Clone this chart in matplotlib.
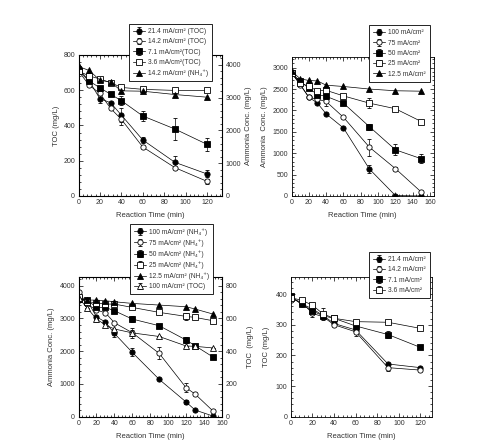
import numpy as np
from matplotlib import pyplot as plt
from matplotlib.ticker import AutoMinorLocator

plt.rcParams['font.family'] = ['Liberation Sans', 'DejaVu Sans']
plt.rcParams['font.size'] = 5

TXT = '#333333'

# panel (a): TOC / NH4+ at different current densities, 0-120 min
t_a = [0, 10, 20, 30, 40, 60, 90, 120]
toc_214 = [724, 652, 552, 529, 459, 318, 191, 125]
toc_214_err = [0, 0, 25, 0, 40, 15, 35, 20]
toc_142 = [709, 628, 582, 497, 435, 278, 161, 83]
toc_142_err = [0, 0, 0, 0, 30, 0, 0, 15]
toc_71 = [709, 652, 614, 577, 541, 454, 380, 293]
toc_71_err = [0, 0, 0, 0, 25, 28, 65, 35]
toc_36 = [709, 681, 664, 643, 616, 605, 599, 599]
nh4_142 = [3949, 3827, 3532, 3471, 3206, 3196, 3094, 3013]
labels_a = ['21.4 mA/cm² (TOC)', '14.2 mA/cm² (TOC)', '7.1 mA/cm²(TOC)',
            '3.6 mA/cm²(TOC)', '14.2 mA/cm² (NH₄⁺)']

# panel (b): ammonia at different current densities, 0-150 min
t_b = [0, 10, 20, 30, 40, 60, 90, 120, 150]
nh_100 = [2884, 2610, 2310, 2170, 1920, 1590, 630, 10, 0]
nh_100_err = [0, 0, 0, 0, 0, 0, 100, 0, 0]
nh_75 = [2884, 2600, 2310, 2260, 2210, 1840, 1140, 640, 90]
nh_75_err = [0, 0, 0, 0, 100, 0, 200, 30, 0]
nh_50 = [2884, 2680, 2520, 2370, 2330, 2170, 1620, 1080, 870]
nh_50_err = [0, 0, 0, 0, 0, 0, 70, 130, 100]
nh_25 = [2870, 2650, 2560, 2460, 2470, 2340, 2170, 2040, 1740]
nh_25_err = [0, 0, 0, 0, 0, 0, 110, 0, 0]
nh_125 = [2923, 2740, 2700, 2690, 2590, 2560, 2500, 2460, 2450]
labels_b = ['100 mA/cm²', '75 mA/cm²', '50 mA/cm²', '25 mA/cm²', '12.5 mA/cm²']

# panel (c): ammonia + TOC at 100 mA/cm2
t_c = [0, 10, 20, 30, 40, 60, 90, 120, 130, 150]
c_100 = [3562, 3532, 3053, 2891, 2545, 1964, 1140, 448, 204, 20]
c_100_err = [0, 0, 0, 0, 100, 120, 0, 60, 0, 0]
c_75 = [3817, 3430, 3257, 3176, 2870, 2565, 1934, 885, 692, 173]
c_75_err = [0, 0, 0, 0, 0, 150, 180, 130, 0, 0]
c_50 = [3613, 3562, 3338, 3338, 3236, 2982, 2779, 2341, 2168, 1822]
c_50_err = [0, 0, 0, 0, 0, 100, 0, 90, 0, 0]
c_25 = [3644, 3511, 3481, 3440, 3440, 3338, 3186, 3064, 3033, 2931]
c_25_err = [0, 0, 0, 0, 0, 0, 0, 110, 0, 0]
c_125 = [3593, 3562, 3562, 3542, 3511, 3460, 3410, 3359, 3288, 3135]
c_toc = [727, 662, 597, 560, 536, 512, 490, 432, 430, 420]
c_toc_err = [0, 0, 20, 15, 0, 20, 0, 0, 0, 0]
labels_c = ['100 mA/cm² (NH₄⁺)', '75 mA/cm² (NH₄⁺)', '50 mA/cm² (NH₄⁺)',
            '25 mA/cm² (NH₄⁺)', '12.5 mA/cm² (NH₄⁺)', '100 mA/cm² (TOC)']

# panel (d): TOC only
t_d = [0, 10, 20, 30, 40, 60, 90, 120]
d_214 = [391, 368, 352, 330, 304, 283, 172, 160]
d_214_err = [0, 0, 0, 0, 0, 0, 0, 0]
d_142 = [382, 375, 337, 326, 300, 277, 160, 152]
d_142_err = [0, 0, 12, 0, 0, 15, 12, 0]
d_71 = [395, 366, 345, 329, 321, 296, 268, 226]
d_71_err = [0, 0, 0, 0, 10, 0, 10, 0]
d_36 = [388, 380, 364, 335, 321, 310, 308, 288]
d_36_err = [0, 0, 0, 18, 12, 0, 0, 0]
labels_d = ['21.4 mA/cm²', '14.2 mA/cm²', '7.1 mA/cm²', '3.6 mA/cm²']


def series(ax, x, y, marker, filled, label, yerr=None):
    fc = 'black' if filled else 'white'
    return ax.errorbar(x, y, yerr=yerr, marker=marker, ms=3.8, mfc=fc, mec='black', mew=0.6,
                       color='black', lw=0.5, elinewidth=0.5, capsize=1.5, capthick=0.5,
                       label=label)


def ticks(ax, which_axis='both'):
    ax.tick_params(axis=which_axis, which='both', direction='in', labelsize=5,
                   colors='black', labelcolor=TXT, width=0.5, pad=2.5)
    ax.tick_params(axis=which_axis, which='major', length=3)
    ax.tick_params(axis=which_axis, which='minor', length=1.5)


def style(ax, xlim, ylim, xticks, yticks, right=True):
    ax.set_xlim(*xlim)
    ax.set_ylim(*ylim)
    ax.set_xticks(xticks)
    ax.set_yticks(yticks)
    ax.xaxis.set_minor_locator(AutoMinorLocator(5))
    ax.yaxis.set_minor_locator(AutoMinorLocator(5))
    ticks(ax)
    ax.tick_params(which='both', top=True, right=right)
    for s in ax.spines.values():
        s.set_linewidth(0.6)
    ax.set_xlabel('Reaction Time (min)', color=TXT, fontsize=5.5)
    ax.xaxis.set_label_coords(0.5, -0.115)


def twin_style(axr, ylim, yticks):
    axr.set_ylim(*ylim)
    axr.set_yticks(yticks)
    axr.yaxis.set_minor_locator(AutoMinorLocator(5))
    ticks(axr, 'y')


def legend(handles, labels, anchor):
    leg = fig.legend(handles, labels, loc='upper left', bbox_to_anchor=anchor, fontsize=4.8,
                     frameon=True, fancybox=False, edgecolor='black', framealpha=1,
                     borderpad=0.6, labelspacing=0.5, handlelength=1.8, handletextpad=0.5,
                     borderaxespad=0)
    leg.get_frame().set_linewidth(0.6)
    for t in leg.get_texts():
        t.set_color(TXT)
    return leg


fig = plt.figure(figsize=(5, 4.42), dpi=100)

# ---- panel (a)
ax1 = fig.add_axes([0.157, 0.5566, 0.287, 0.319])
ax1r = ax1.twinx()
h = [series(ax1, t_a, toc_214, 'o', True, labels_a[0], toc_214_err),
     series(ax1, t_a, toc_142, 'o', False, labels_a[1], toc_142_err),
     series(ax1, t_a, toc_71, 's', True, labels_a[2], toc_71_err),
     series(ax1, t_a, toc_36, 's', False, labels_a[3]),
     series(ax1r, t_a, nh4_142, '^', True, labels_a[4])]
style(ax1, (0, 134), (0, 800), range(0, 121, 20), range(0, 801, 200), right=False)
twin_style(ax1r, (0, 4300), range(0, 4001, 1000))
ax1.set_ylabel('TOC (mg/L)', color=TXT, fontsize=5.5)
ax1.yaxis.set_label_coords(-0.13, 0.5)
ax1r.set_ylabel('Ammonia Conc. (mg/L)', color=TXT, fontsize=5.5)
ax1r.yaxis.set_label_coords(1.16, 0.5)
legend(h, labels_a, (0.258, 0.9457))

# ---- panel (b)
ax2 = fig.add_axes([0.583, 0.5566, 0.284, 0.3145])
h = [series(ax2, t_b, nh_100, 'o', True, labels_b[0], nh_100_err),
     series(ax2, t_b, nh_75, 'o', False, labels_b[1], nh_75_err),
     series(ax2, t_b, nh_50, 's', True, labels_b[2], nh_50_err),
     series(ax2, t_b, nh_25, 's', False, labels_b[3], nh_25_err),
     series(ax2, t_b, nh_125, '^', True, labels_b[4])]
style(ax2, (0, 164), (0, 3250), range(0, 161, 20), range(0, 3001, 500))
ax2.set_ylabel('Ammonia  Conc. (mg/L)', color=TXT, fontsize=5.5)
ax2.yaxis.set_label_coords(-0.167, 0.5)
legend(h, labels_b, (0.738, 0.943))

# ---- panel (c)
ax3 = fig.add_axes([0.157, 0.0572, 0.287, 0.3167])
ax3r = ax3.twinx()
h = [series(ax3, t_c, c_100, 'o', True, labels_c[0], c_100_err),
     series(ax3, t_c, c_75, 'o', False, labels_c[1], c_75_err),
     series(ax3, t_c, c_50, 's', True, labels_c[2], c_50_err),
     series(ax3, t_c, c_25, 's', False, labels_c[3], c_25_err),
     series(ax3, t_c, c_125, '^', True, labels_c[4]),
     series(ax3r, t_c, c_toc, '^', False, labels_c[5], c_toc_err)]
style(ax3, (0, 160), (0, 4275), range(0, 161, 20), range(0, 4001, 1000), right=False)
twin_style(ax3r, (0, 855), range(0, 801, 200))
ax3.set_ylabel('Ammonia Conc. (mg/L)', color=TXT, fontsize=5.5)
ax3.yaxis.set_label_coords(-0.165, 0.5)
ax3r.set_ylabel('TOC  (mg/L)', color=TXT, fontsize=5.5)
ax3r.yaxis.set_label_coords(1.175, 0.5)
legend(h, labels_c, (0.26, 0.4932))

# ---- panel (d)
ax4 = fig.add_axes([0.5814, 0.0572, 0.2832, 0.315])
h = [series(ax4, t_d, d_214, 'o', True, labels_d[0], d_214_err),
     series(ax4, t_d, d_142, 'o', False, labels_d[1], d_142_err),
     series(ax4, t_d, d_71, 's', True, labels_d[2], d_71_err),
     series(ax4, t_d, d_36, 's', False, labels_d[3], d_36_err)]
style(ax4, (0, 131), (0, 454), range(0, 121, 20), range(0, 401, 100))
ax4.set_ylabel('TOC (mg/L)', color=TXT, fontsize=5.5)
ax4.yaxis.set_label_coords(-0.146, 0.5)
legend(h, labels_d, (0.738, 0.4299))

fig.savefig('out.png', dpi=100)
